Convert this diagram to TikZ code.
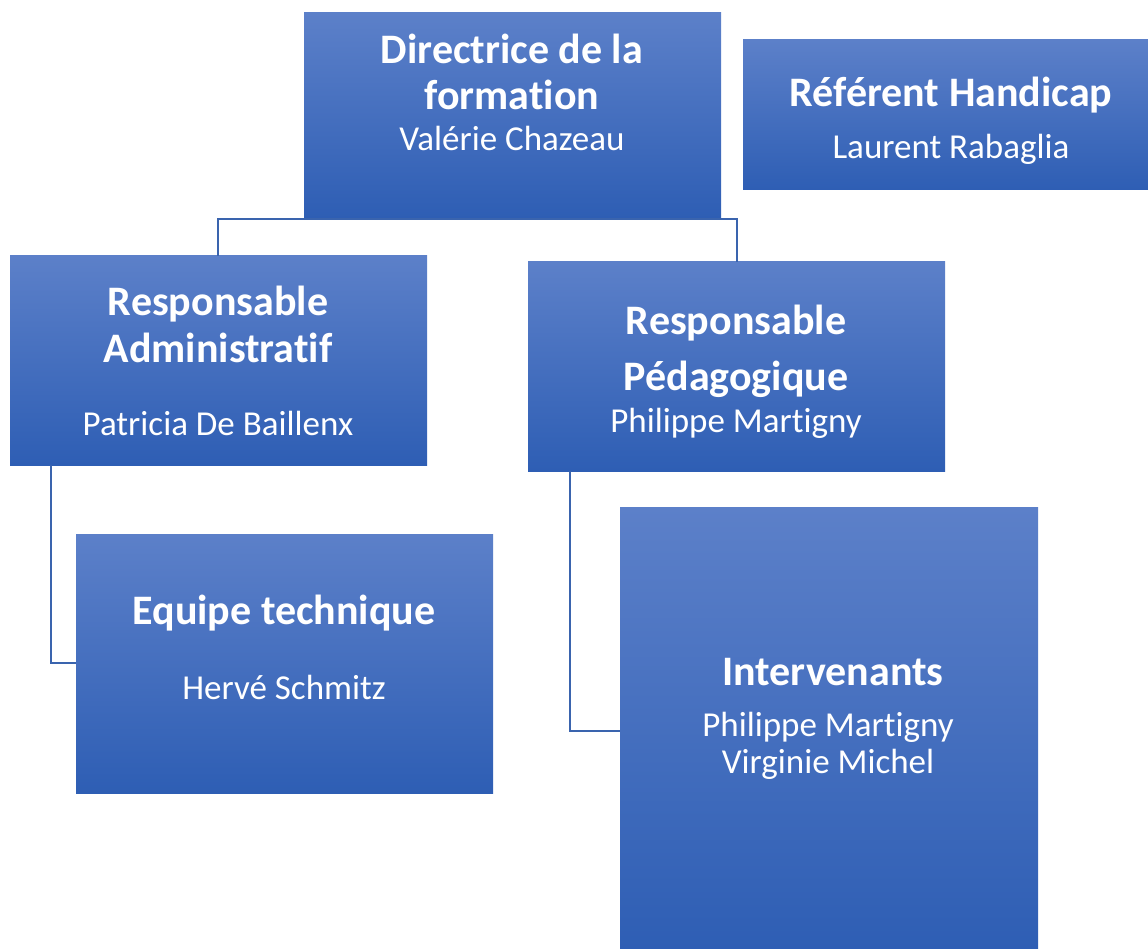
\documentclass[tikz,border=0pt]{standalone}
\usepackage{fontspec}
\setmainfont{Carlito}[Ligatures=NoCommon]
\begin{document}
\begin{tikzpicture}[x=1pt,y=-1pt,
  box/.style={rectangle, inner sep=0pt, outer sep=0pt, anchor=north west,
    top color={rgb,255:red,92;green,128;blue,201},
    middle color={rgb,255:red,60;green,112;blue,200},
    bottom color={rgb,255:red,46;green,94;blue,180}},
  ttl/.style={text=white, font=\fontsize{42}{45}\selectfont\bfseries, anchor=mid},
  nm/.style={text=white, font=\fontsize{35}{38}\selectfont, anchor=mid},
  conn/.style={draw={rgb,255:red,58;green,100;blue,174}, line width=1.6pt}]
\useasboundingbox (0,0) rectangle (1148,949);
% boxes
\node[box, minimum width=417pt, minimum height=205pt] (dir) at (304,13) {};
\node[box, minimum width=406pt, minimum height=150pt] (ref) at (743,40) {};
\node[box, minimum width=417pt, minimum height=209pt] (adm) at (10,256) {};
\node[box, minimum width=417pt, minimum height=209pt] (ped) at (528,262) {};
\node[box, minimum width=417pt, minimum height=259pt] (equ) at (76,534) {};
\node[box, minimum width=418pt, minimum height=443pt] (int) at (620,507) {};
% connectors
\coordinate (bar) at (0,219);
\draw[conn] (adm.north -| 218,0) |- (bar -| 737,0) -- (ped.north -| 737,0);
\coordinate (ladm) at (51,0);
\draw[conn] (adm.south -| ladm) |- (equ.west |- 0,663);
\coordinate (lped) at (570,0);
\draw[conn] (ped.south -| lped) |- (int.west |- 0,731);
% texts
\node[ttl] (dirt1) at (512,61) {Directrice de la};
\node[ttl] (dirt2) at (512,107) {formation};
\node[nm] (dirn) at (512,148) {Valérie Chazeau};
\node[ttl] (reft) at (951,104) {Référent Handicap};
\node[nm] (refn) at (951,156) {Laurent Rabaglia};
\node[ttl] (admt1) at (218,313) {Responsable};
\node[ttl] (admt2) at (218,360) {Administratif};
\node[nm] (admn) at (218,433) {Patricia De Baillenx};
\node[ttl] (pedt1) at (736,332) {Responsable};
\node[ttl] (pedt2) at (736,388) {Pédagogique};
\node[nm] (pedn) at (736,430) {Philippe Martigny};
\node[ttl] (equt) at (284,622) {Equipe technique};
\node[nm] (equn) at (284,697) {Hervé Schmitz};
\node[ttl] (intt) at (833,683) {Intervenants};
\node[nm] (intn1) at (828,734) {Philippe Martigny};
\node[nm] (intn2) at (828,771) {Virginie Michel};
\end{tikzpicture}
\end{document}
